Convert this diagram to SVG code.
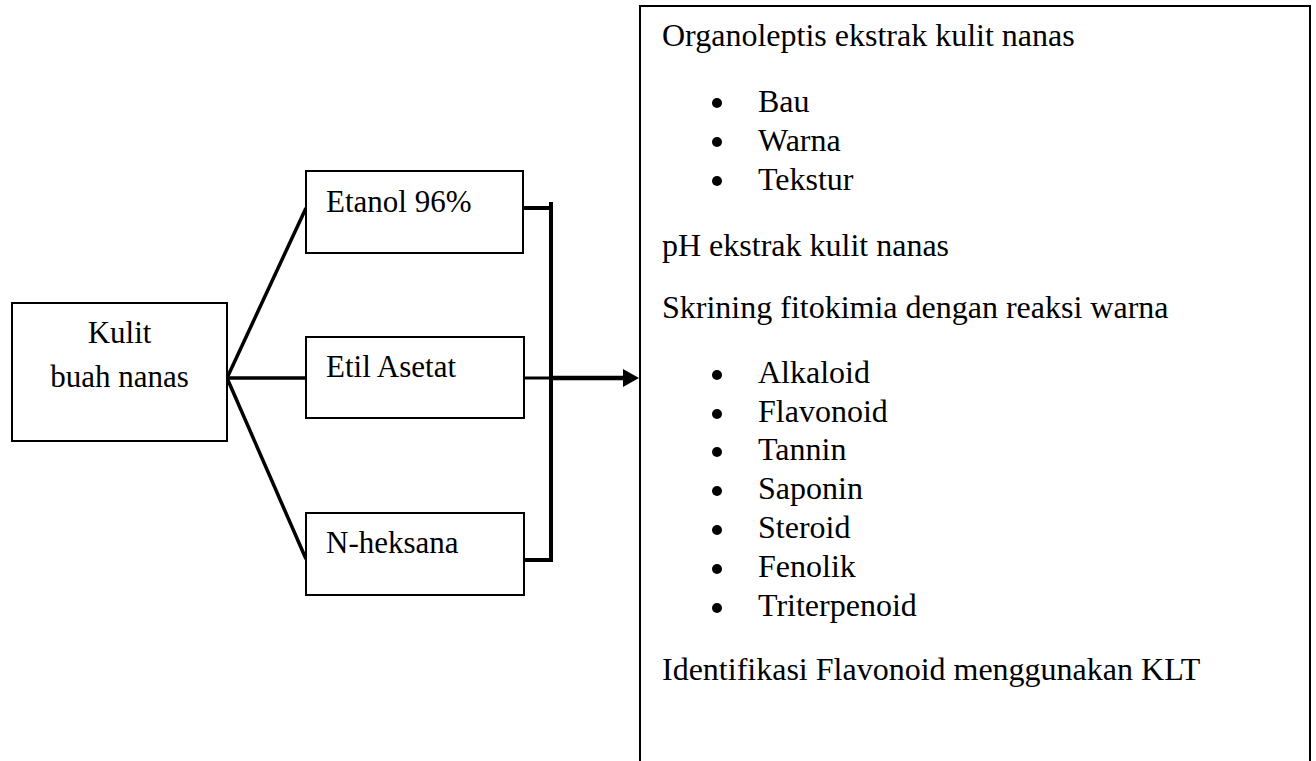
<svg xmlns="http://www.w3.org/2000/svg" width="1316" height="761" viewBox="0 0 1316 761">
<defs>
<style>
.box{fill:#fff;stroke:#000;stroke-width:2}
.t{font-family:"Liberation Serif","Times New Roman",serif;fill:#000}
.l{font-size:31px}
.r{font-size:32px}
.c{fill:none;stroke:#000;stroke-linecap:butt}
</style>
</defs>
<rect width="1316" height="761" fill="#fff"/>
<g id="connectors">
<line class="c" x1="227" y1="378" x2="306" y2="208" stroke-width="3.5"/>
<line class="c" x1="227" y1="378" x2="306" y2="378" stroke-width="3.5"/>
<line class="c" x1="227" y1="378" x2="306" y2="559" stroke-width="3.5"/>
<polyline class="c" points="523,208 551,208 551,203" stroke-width="4"/>
<line class="c" x1="551" y1="202" x2="551" y2="562" stroke-width="4"/>
<line class="c" x1="524" y1="560" x2="553" y2="560" stroke-width="4"/>
<line class="c" x1="524" y1="378" x2="551" y2="378" stroke-width="3"/>
<line class="c" x1="551" y1="378" x2="625" y2="378" stroke-width="4.5"/>
<polygon points="623,369 639,378 623,387" fill="#000"/>
</g>
<g id="kulit">
<rect class="box" x="12" y="303" width="215" height="138"/>
<text class="t l" x="119.5" y="343" text-anchor="middle">Kulit</text>
<text class="t l" x="119.5" y="387" text-anchor="middle">buah nanas</text>
</g>
<g id="etanol">
<rect class="box" x="306" y="171" width="217" height="82"/>
<text class="t l" x="326" y="212">Etanol 96%</text>
</g>
<g id="etil">
<rect class="box" x="306" y="337" width="218" height="81"/>
<text class="t l" x="326" y="377">Etil Asetat</text>
</g>
<g id="nheksana">
<rect class="box" x="306" y="513" width="218" height="82"/>
<text class="t l" x="326" y="553">N-heksana</text>
</g>
<g id="hasil">
<path d="M640,770 V6 H1310 V770" fill="none" stroke="#000" stroke-width="2"/>
<text class="t r" x="662" y="46">Organoleptis ekstrak kulit nanas</text>
<circle cx="717" cy="103" r="5"/><text class="t r" x="758" y="112">Bau</text>
<circle cx="717" cy="142" r="5"/><text class="t r" x="758" y="151">Warna</text>
<circle cx="717" cy="181" r="5"/><text class="t r" x="758" y="190">Tekstur</text>
<text class="t r" x="662" y="256">pH ekstrak kulit nanas</text>
<text class="t r" x="662" y="318">Skrining fitokimia dengan reaksi warna</text>
<circle cx="717" cy="375" r="5"/><text class="t r" x="758" y="383">Alkaloid</text>
<circle cx="717" cy="414" r="5"/><text class="t r" x="758" y="422">Flavonoid</text>
<circle cx="717" cy="452" r="5"/><text class="t r" x="758" y="460">Tannin</text>
<circle cx="717" cy="491" r="5"/><text class="t r" x="758" y="499">Saponin</text>
<circle cx="717" cy="530" r="5"/><text class="t r" x="758" y="538">Steroid</text>
<circle cx="717" cy="569" r="5"/><text class="t r" x="758" y="577">Fenolik</text>
<circle cx="717" cy="608" r="5"/><text class="t r" x="758" y="616">Triterpenoid</text>
<text class="t r" x="662" y="680">Identifikasi Flavonoid menggunakan KLT</text>
</g>
</svg>
